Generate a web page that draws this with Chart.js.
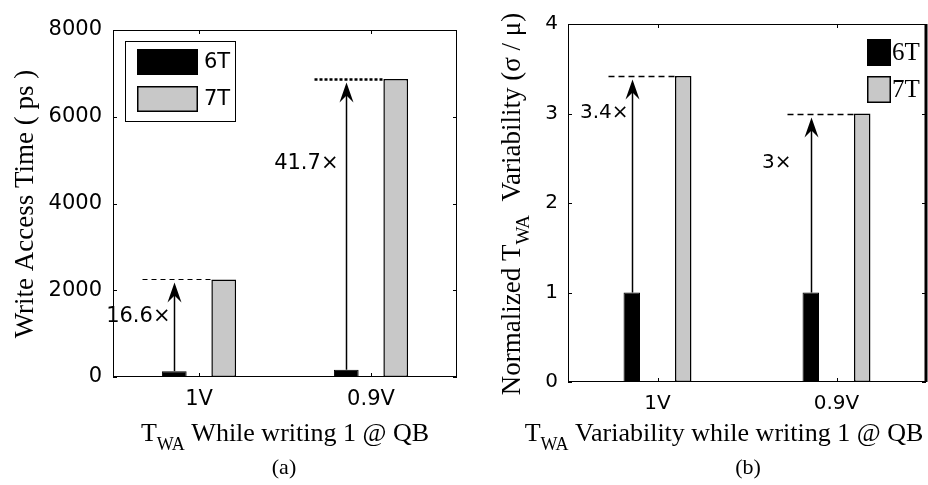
<!DOCTYPE html>
<html>
<head>
<meta charset="utf-8">
<script src="https://cdn.jsdelivr.net/npm/chart.js@4.4.1/dist/chart.umd.min.js"></script>
<style>
  html, body { margin: 0; padding: 0; background: #fff; }
  #wrap { position: relative; width: 928px; height: 485px; overflow: hidden; }
  .panel { position: absolute; top: 0; }
  #panelA { left: 0; }
  #panelB { left: 460px; }
</style>
</head>
<body>
<div id="wrap">
  <div class="panel" id="panelA"><canvas id="chartA" width="460" height="485"></canvas></div>
  <div class="panel" id="panelB"><canvas id="chartB" width="468" height="485"></canvas></div>
</div>
<script>
// ---- data ----
var categories = ['1V', '0.9V'];
var seriesNames = ['6T', '7T'];

var accessTime6T = [135, 165];       // ps
var accessTime7T = [2250, 6870];     // ps
var accessRatio = ['16.6×', '41.7×'];

var variability6T = [1, 1];          // normalized sigma/mu
var variability7T = [3.42, 3.0];
var variabilityRatio = ['3.4×', '3×'];

var BLACK = '#000000';
var GRAY = '#c8c8c8';
var SERIF = '"Liberation Serif", "Times New Roman", serif';
var SANS = '"DejaVu Sans", sans-serif';

function line(ctx, x1, y1, x2, y2) {
  ctx.beginPath();
  ctx.moveTo(x1, y1);
  ctx.lineTo(x2, y2);
  ctx.stroke();
}

// draws a run of text pieces, some of them subscripts, centred on cx
function drawParts(ctx, parts, cx, baseY, size, subSize, subDrop) {
  var widths = parts.map(function(p) {
    ctx.font = (p[1] ? subSize : size) + 'px ' + SERIF;
    return ctx.measureText(p[0]).width;
  });
  var total = widths.reduce(function(a, b) { return a + b; }, 0);
  var x = cx - total / 2;
  ctx.textAlign = 'left';
  ctx.textBaseline = 'alphabetic';
  parts.forEach(function(p, i) {
    ctx.font = (p[1] ? subSize : size) + 'px ' + SERIF;
    ctx.fillText(p[0], x, baseY + (p[1] ? subDrop : 0));
    x += widths[i];
  });
}

function panelPlugin(cfg) {
  return {
    id: 'panel' + cfg.name,
    afterDraw: function(chart) {
      var ctx = chart.ctx, area = chart.chartArea;
      var xs = chart.scales.x, ys = chart.scales.y;
      ctx.save();
      ctx.strokeStyle = BLACK;
      ctx.fillStyle = BLACK;

      // box
      ctx.lineWidth = 1;
      ctx.strokeRect(area.left + 0.5, area.top + 0.5, area.right - area.left - 1, area.bottom - area.top - 1);
      if (cfg.rightEdge) {
        ctx.lineWidth = cfg.rightEdge;
        line(ctx, area.right, area.top, area.right, area.bottom);
        ctx.lineWidth = 1;
      }

      // inward ticks, all four sides
      ys.ticks.forEach(function(t) {
        var py = Math.round(ys.getPixelForValue(t.value)) + 0.5;
        line(ctx, area.left, py, area.left + 4, py);
        line(ctx, area.right, py, area.right - 4, py);
      });
      categories.forEach(function(c, i) {
        var px = Math.round(xs.getPixelForValue(i)) + 0.5;
        line(ctx, px, area.bottom, px, area.bottom - 4);
        line(ctx, px, area.top, px, area.top + 4);
      });

      // ratio arrows
      var m6 = chart.getDatasetMeta(0), m7 = chart.getDatasetMeta(1);
      cfg.ratios.forEach(function(txt, i) {
        var b6 = m6.data[i], b7 = m7.data[i];
        var ax = Math.round(b6.x) + 0.5, topY = Math.round(b7.y) + 0.5;
        ctx.setLineDash(cfg.dash[i]);
        ctx.lineWidth = cfg.dashWidth[i];
        line(ctx, ax - cfg.dashLead, topY, b7.x - b7.width / 2, topY);
        ctx.setLineDash([]);
        ctx.lineWidth = 1.5;
        line(ctx, ax, b6.y, ax, topY + 12);
        var tip = topY + 3;
        ctx.beginPath();
        ctx.moveTo(ax, tip);
        ctx.lineTo(ax - 7, tip + 20);
        ctx.lineTo(ax, tip + 13);
        ctx.lineTo(ax + 7, tip + 20);
        ctx.closePath();
        ctx.fill();

        ctx.font = cfg.tickSize + 'px ' + SANS;
        ctx.textAlign = 'right';
        ctx.textBaseline = 'middle';
        ctx.fillText(txt, ax + cfg.labelPos[i][0], ys.getPixelForValue(cfg.labelPos[i][1]));
      });

      // legend
      var L = cfg.legend;
      if (L.box) {
        ctx.lineWidth = 1;
        ctx.strokeRect(L.box[0] + 0.5, L.box[1] + 0.5, L.box[2], L.box[3]);
      }
      chart.data.datasets.forEach(function(ds, i) {
        var sy = L.y[i];
        ctx.fillStyle = ds.backgroundColor;
        ctx.fillRect(L.x, sy, L.w, L.h);
        ctx.strokeStyle = BLACK;
        ctx.lineWidth = 1.5;
        ctx.strokeRect(L.x + 0.75, sy + 0.75, L.w - 1.5, L.h - 1.5);
        ctx.fillStyle = BLACK;
        ctx.font = L.font;
        ctx.textAlign = 'left';
        ctx.textBaseline = 'middle';
        ctx.fillText(ds.label, L.x + L.w + L.gap, sy + L.h / 2 + 1);
      });

      // axis titles and caption
      drawParts(ctx, cfg.xTitle, cfg.xTitleX, cfg.xTitleY, 26, 18, 9);

      ctx.save();
      ctx.translate(cfg.yTitleX, cfg.yTitleY);
      ctx.rotate(-Math.PI / 2);
      drawParts(ctx, cfg.yTitle, 0, 0, 27, 19, 9);
      ctx.restore();

      ctx.font = '22px ' + SERIF;
      ctx.textAlign = 'center';
      ctx.textBaseline = 'middle';
      ctx.fillText(cfg.caption, cfg.captionX, 468);

      ctx.restore();
    }
  };
}

function makeChart(id, cfg) {
  return new Chart(document.getElementById(id), {
    type: 'bar',
    data: {
      labels: categories,
      datasets: [
        { label: seriesNames[0], data: cfg.values[0], backgroundColor: BLACK, borderColor: BLACK,
          borderWidth: 1, borderSkipped: false },
        { label: seriesNames[1], data: cfg.values[1], backgroundColor: GRAY, borderColor: BLACK,
          borderWidth: 1.5, borderSkipped: false }
      ]
    },
    options: {
      responsive: false,
      animation: false,
      events: [],
      categoryPercentage: 0.575,
      barPercentage: cfg.barPct,
      layout: { padding: { left: 0, right: cfg.padRight, top: cfg.top, bottom: 0 } },
      plugins: { legend: { display: false }, tooltip: { enabled: false } },
      scales: {
        x: {
          grid: { display: false, drawTicks: false },
          border: { display: false },
          ticks: { color: BLACK, padding: 10, font: { family: SANS, size: cfg.tickSize } },
          afterFit: function(s) { s.height = cfg.xHeight; }
        },
        y: {
          min: 0, max: cfg.max,
          grid: { display: false, drawTicks: false },
          border: { display: false },
          ticks: {
            stepSize: cfg.step, color: BLACK, padding: cfg.yPad,
            font: { family: SANS, size: cfg.tickSize },
            callback: function(v) { return String(v); }
          },
          afterFit: function(s) { s.width = cfg.yWidth; }
        }
      }
    },
    plugins: [panelPlugin(cfg)]
  });
}

makeChart('chartA', {
  name: 'A',
  values: [accessTime6T, accessTime7T],
  max: 8000, step: 2000,
  barPct: 0.5, tickSize: 21,
  yWidth: 113, xHeight: 108, top: 30, padRight: 3, yPad: 11,
  ratios: accessRatio,
  labelPos: [[-4, 1390], [-8, 4930]],
  dash: [[5, 4], [3, 2]], dashWidth: [1, 2.5], dashLead: 32,
  legend: { box: [125, 41, 110, 80], x: 137, y: [49, 86], w: 61, h: 26, gap: 6, font: '21px ' + SANS },
  xTitle: [['T', false], ['WA', true], [' While writing 1 @ QB', false]],
  xTitleX: 285, xTitleY: 441,
  yTitle: [['Write Access Time ( ps )', false]],
  yTitleX: 33, yTitleY: 204,
  caption: '(a)', captionX: 284
});

makeChart('chartB', {
  name: 'B',
  values: [variability6T, variability7T],
  max: 4, step: 1,
  barPct: 0.32, tickSize: 20,
  yWidth: 108, xHeight: 103, top: 24, padRight: 2, yPad: 10,
  ratios: variabilityRatio,
  labelPos: [[-4, 3.01], [-20, 2.445]],
  dash: [[6, 4], [6, 4]], dashWidth: [1.5, 1.5], dashLead: 24,
  legend: { box: null, x: 407, y: [39, 76], w: 24, h: 27, gap: 1, font: '25px ' + SERIF },
  rightEdge: 3,
  xTitle: [['T', false], ['WA', true], [' Variability while writing 1 @ QB', false]],
  xTitleX: 264, xTitleY: 441,
  yTitle: [['Normalized T', false], ['WA', true], ['  Variability (σ / μ)', false]],
  yTitleX: 60, yTitleY: 204,
  caption: '(b)', captionX: 288
});
</script>
</body>
</html>
